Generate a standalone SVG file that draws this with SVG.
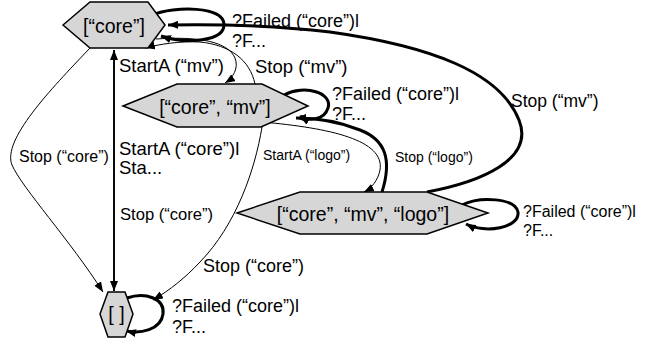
<svg xmlns="http://www.w3.org/2000/svg" width="646" height="340" viewBox="0 0 646 340">
<style>
.n{fill:#d6d6d6;stroke:#000;stroke-width:1.5;stroke-linejoin:miter}
.nt{font-family:"Liberation Sans",Arial,sans-serif;font-size:19.5px;fill:#000;text-anchor:middle}
.t{font-family:"Liberation Sans",Arial,sans-serif;font-size:18px;fill:#000}
.s{font-family:"Liberation Sans",Arial,sans-serif;font-size:14px;fill:#000}
.e{fill:none;stroke:#000;stroke-width:1}
.k{fill:none;stroke:#000;stroke-width:3}
.m{fill:none;stroke:#000;stroke-width:1.6}
</style>
<defs>
<marker id="a" viewBox="0 0 10 8" refX="10" refY="4" markerWidth="10" markerHeight="8" orient="auto" markerUnits="userSpaceOnUse">
<path d="M0,0 L10,4 L0,8 z" fill="#000"/>
</marker>
</defs>
<rect width="646" height="340" fill="#fff"/>
<g id="edges">
<path class="k" d="M152,15 C175,6 223,6 224,24 C225,42 185,44 161,36" marker-end="url(#a)"/>
<path class="k" d="M427,192 C480,182 535,160 519,120 C500,72 430,46 330,32 C270,25 220,24 168,25" marker-end="url(#a)"/>
<path class="e" d="M156,39 C200,36 228,42 235,58 C239,68 233,78 225,83" marker-end="url(#a)"/>
<path class="e" d="M255,84 C250,60 230,45 200,42 C180,41 160,44 145,48" marker-end="url(#a)"/>
<path class="k" d="M284,95 C305,84 333,93 328,108 C324,121 308,121 300,116" marker-end="url(#a)"/>
<path class="k" d="M382,192 C392,160 386,140 360,130 C340,122 318,118 296,118" marker-end="url(#a)"/>
<path class="e" d="M262,122 C330,128 385,140 380,170 C378,180 372,188 364,192" marker-end="url(#a)"/>
<path class="k" d="M462,205 C480,196 515,198 518,212 C520,228 485,234 466,224" marker-end="url(#a)"/>
<path class="m" d="M114,291 L114,50" marker-end="url(#a)"/>
<path class="m" d="M114,50 L114,291" marker-end="url(#a)"/>
<path class="e" d="M90,48 C50,90 2,140 12,165 C22,188 70,240 103,292" marker-end="url(#a)"/>
<path class="e" d="M262,127 C255,170 236,225 200,262 C185,278 170,290 153,300" marker-end="url(#a)"/>
<path class="k" d="M127,298 C145,292 165,298 163,314 C161,330 140,334 126,331" marker-end="url(#a)"/>
</g>
<g id="labels">
<text class="t" x="232" y="27">?Failed (“core”)l</text>
<text class="t" x="232" y="47">?F...</text>
<text class="t" x="119" y="72" style="font-size:18.5px">StartA (“mv”)</text>
<text class="t" x="255" y="73" style="font-size:18.5px">Stop (“mv”)</text>
<text class="t" x="332" y="100">?Failed (“core”)l</text>
<text class="t" x="332" y="120">?F...</text>
<text class="t" x="511" y="107" style="font-size:17.5px">Stop (“mv”)</text>
<text class="s" x="263" y="160">StartA (“logo”)</text>
<text class="s" x="395" y="162">Stop (“logo”)</text>
<text class="t" x="523" y="217" style="font-size:16px">?Failed (“core”)l</text>
<text class="t" x="523" y="236" style="font-size:16px">?F...</text>
<text class="t" x="19" y="162" style="font-size:16px">Stop (“core”)</text>
<text class="t" x="119" y="155" style="font-size:18.5px">StartA (“core”)l</text>
<text class="t" x="119" y="174" style="font-size:18.5px">Sta...</text>
<text class="t" x="120" y="220" style="font-size:16.6px">Stop (“core”)</text>
<text class="t" x="203" y="272">Stop (“core”)</text>
<text class="t" x="172" y="312">?Failed (“core”)l</text>
<text class="t" x="172" y="333">?F...</text>
</g>
<g id="node-core">
<polygon class="n" points="63,25 90,2 148,2 165,25 148,48 90,48"/>
<text class="nt" x="114" y="33">[“core”]</text>
</g>
<g id="node-core-mv">
<polygon class="n" points="123,106 177,84 262,84 308,106 261,127 177,127"/>
<text class="nt" x="215" y="114">[“core”, “mv”]</text>
</g>
<g id="node-core-mv-logo">
<polygon class="n" points="237,213 300,192 427,192 488,213 427,234 300,234"/>
<text class="nt" x="363" y="221">[“core”, “mv”, “logo”]</text>
</g>
<g id="node-empty">
<polygon class="n" points="100,314 108,292 125,292 133,314 125,337 108,337"/>
<text class="nt" x="116.5" y="321">[ ]</text>
</g>
</svg>
